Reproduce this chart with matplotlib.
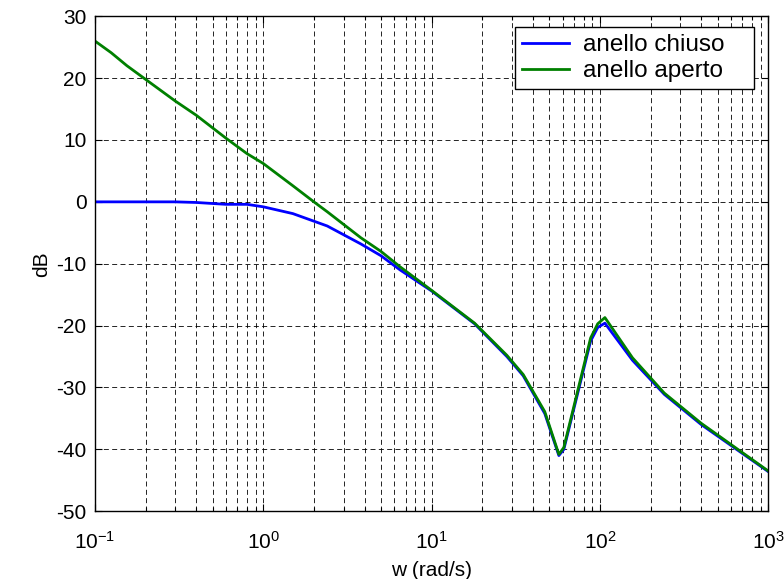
import matplotlib
matplotlib.use('Agg')
import matplotlib.pyplot as plt
import numpy as np

# valori
w_chiuso = [0.1, 0.2, 0.3, 0.4, 0.6, 0.8, 1.0, 1.5, 2.4, 3.8, 5, 6.5, 10, 18, 28, 35,
            47, 57, 61, 88, 97, 107, 156, 241, 400, 1000]
db_chiuso = [0.0, 0.0, 0.0, -0.1, -0.4, -0.4, -0.8, -1.9, -3.9, -6.8, -8.7, -11.0, -14.4,
             -19.7, -25.0, -28.1, -34.2, -41.0, -40.0, -22.5, -20.3, -19.6, -25.6, -31.1,
             -36.0, -43.6]

w_aperto = [0.1, 0.125, 0.155, 0.2, 0.3, 0.4, 0.6, 0.8, 1.0, 1.5, 2.0, 2.4, 3.8, 5, 6.5,
            10, 18, 28, 35, 47, 57, 61, 88, 97, 107, 156, 241, 400, 1000]
db_aperto = [26.0, 24.1, 22.0, 19.8, 16.3, 14.0, 10.3, 7.8, 6.2, 2.6, 0.0, -1.6, -5.8,
             -8.0, -10.5, -14.3, -19.6, -24.8, -27.9, -33.9, -40.8, -39.7, -22.0, -19.7,
             -18.7, -25.2, -30.9, -35.8, -43.5]

plt.rcParams['font.family'] = ['Liberation Sans', 'DejaVu Sans']
plt.rcParams['font.size'] = 15
plt.rcParams['axes.unicode_minus'] = False
plt.rcParams['mathtext.fontset'] = 'custom'
plt.rcParams['mathtext.rm'] = 'Liberation Sans'
plt.rcParams['mathtext.it'] = 'Liberation Sans:italic'
plt.rcParams['mathtext.bf'] = 'Liberation Sans:bold'

fig = plt.figure(figsize=(7.84, 5.79), dpi=100)
ax = fig.add_axes([0.121, 0.117, 0.859, 0.855])

ax.semilogx(w_chiuso, db_chiuso, color='#0000ff', linewidth=2, label='anello chiuso')
ax.semilogx(w_aperto, db_aperto, color='#008000', linewidth=2, label='anello aperto')

ax.set_xlim(0.1, 1000)
ax.set_ylim(-50, 30)
ax.set_yticks(np.arange(-50, 31, 10))
ax.set_xlabel('w (rad/s)', labelpad=6)
ax.set_ylabel('dB', labelpad=4)

ax.grid(True, which='major', axis='both', color='black', linestyle=(0, (6, 4)), linewidth=0.6)
ax.grid(True, which='minor', axis='x', color='black', linestyle=(0, (6, 4)), linewidth=0.6)

ax.tick_params(which='both', direction='in', top=True, right=True)
ax.tick_params(which='major', length=5, width=0.8)
ax.tick_params(which='minor', length=3, width=0.8)
ax.tick_params(axis='x', which='major', pad=14)
ax.tick_params(axis='y', which='major', pad=6)
for s in ax.spines.values():
    s.set_linewidth(1.0)

leg = ax.legend(loc='upper left', bbox_to_anchor=(0.624, 0.855, 0.354, 0.123), mode='expand',
                fancybox=False, framealpha=1, edgecolor='black', fontsize=17.5,
                borderaxespad=0, handlelength=1.9, borderpad=0.3, labelspacing=0.15,
                handletextpad=0.6)
leg.get_frame().set_linewidth(1.0)

fig.savefig('out.png', dpi=100)
